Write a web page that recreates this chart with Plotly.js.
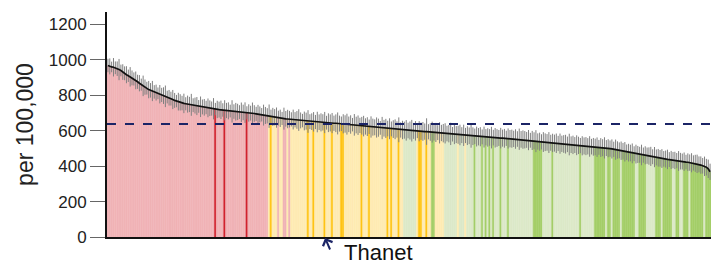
<!DOCTYPE html>
<html>
<head>
<meta charset="utf-8">
<script src="https://cdn.plot.ly/plotly-3.0.1.min.js"></script>
<style>html,body{margin:0;padding:0;background:#fff;}#chart{width:720px;height:264px;}</style>
</head>
<body>
<div id="chart"></div>
<script>
// Rate per 100,000 for each local authority, sorted from highest to lowest
const rates = [
  968,963,960,958,955,950,945,940,931,924,916,910,904,898,
  892,884,876,868,860,853,846,840,832,
  828,824,819,815,811,806,802,798,794,
  790,786,781,776,771,767,764,760,756,
  754,752,750,748,746,744,742,739,737,
  735,734,732,731,729,727,725,724,722,
  720,719,718,717,715,714,712,711,709,
  708,707,706,705,704,703,702,701,700,
  699,698,697,695,693,692,690,688,686,
  684,682,680,678,676,674,671,
  670,669,668,667,666,665,
  664,663,662,661,660,658,657,655,654,652,
  651,651,650,649,649,648,647,647,646,
  645,645,644,643,642,642,641,640,639,639,638,637,636,635,634,633,632,631,630,
  628,626,624,
  623,622,621,620,619,618,617,616,615,614,613,612,611,610,609,608,607,605,
  604,604,603,602,601,601,600,599,599,598,597,597,596,595,595,594,593,592,
  591,590,589,588,587,586,585,584,583,582,580,
  579,578,577,576,575,574,573,572,571,570,569,568,567,566,566,565,564,563,
  562,562,561,561,560,559,559,558,558,557,557,556,555,555,554,553,553,552,
  551,550,549,548,547,546,545,543,541,539,
  538,537,536,535,534,533,532,531,530,529,528,527,526,525,524,523,522,521,520,
  519,518,517,516,515,514,513,512,511,510,509,508,507,506,505,504,503,502,501,
  499,497,495,493,491,489,487,484,481,478,
  476,474,472,470,468,466,464,463,462,461,459,457,455,453,451,449,447,444,
  443,441,440,438,437,435,434,432,431,429,428,426,425,423,422,420,419,418,416,
  413,410,406,402,399,394,385,368
];

// Half-width of the confidence interval for each local authority
const ciHalf = [
  38,45,30,52,36,41,60,33,44,39,48,35,55,42,37,50,40,46,34,58,
  43,36,49,41,57,38,45,33,52,40,47,61,36,44,39,54,42,35,50,46,
  41,55,37,48,43,62,39,45,51,36,58,42,47,38,53,44,40,60,35,49,
  45,52,38,57,43,48,36,63,41,50,46,39,55,44,58,37,49,42,61,47,
  40,53,45,38,59,48,43,66,39,51,46,57,42,49,37,62,44,52,47,40,
  56,43,50,61,45,38,53,48,64,42,47,55,40,58,44,51,46,60,39,53,
  48,57,43,50,62,45,41,54,49,59,44,52,38,61,47,55,43,50,58,46,
  53,41,60,48,45,57,51,39,63,47,54,44,59,42,50,56,46,70,43,52,
  48,58,44,51,61,45,55,40,57,49,53,46,75,43,50,59,47,54,42,60,
  46,52,57,44,49,63,41,55,48,51,58,45,60,43,53,47,66,50,44,56,
  49,54,42,59,46,52,47,61,44,55,50,45,58,48,53,43,57,49,51,46,
  55,44,60,47,52,49,45,57,42,54,48,62,46,51,43,56,50,47,59,45,
  52,48,55,43,57,46,50,53,44,61,47,52,45,56,49,43,54,48,51,46,
  58,44,50,47,55,42,53,48,60,45,51,46,54,43,57,49,45,52,47,55,
  44,50,47,56,42,53,48,45,58,43,51,46,49,54,42,57,45,50,47,53,
  44,48,55,42,51,46,49,43,56,47,45,52,41,50,46,54,43,48,52,45,
  49,44,55,47,52,46
];

// Region/status group of each local authority (one letter per bar)
const groupCodes = (
  "rrrrrrrrrrrrrrrrrrrr" +
  "rrrrrrrrrrrrrrrrrrrr" +
  "rrrrrrrrrrrrrrrrrrRr" +
  "rrrRrrrrrrrrrrrRrrrr" +
  "rrrrrrryYyyyryyrryry" +
  "yyyyyyyyYyyYyyyyyYyy" +
  "yYyyyyYYyyyyyyyyyYyy" +
  "yYyyyyyyyyyYyYyyyYyy" +
  "gggggggyYYyyYyyGGyyy" +
  "yygggggggygggyggggGg" +
  "ggGgGgGgGgggGgggGggg" +
  "ggggggggggGGGGGggggg" +
  "GggggggggggggggGgggg" +
  "gggGGGGGGgGGgGGGGgGG" +
  "GGGGGggGGGGgggggGGGg" +
  "GGGGGggGGggGGGgGGGGG" +
  "GGgGGG"
).split("");

const groupColours = {
  r: "#F0B3B6", R: "#D1232F",
  y: "#FEEBB3", Y: "#FFC415",
  g: "#DCE9C8", G: "#A4CE68"
};

const englandRate = 638;
const highlightIndex = 117;
const highlightName = "Thanet";

const idx = rates.map((_, i) => i);
const barColours = groupCodes.map(c => groupColours[c]);

const font = "Liberation Sans, Arial, Helvetica, sans-serif";

const traces = [
  {
    type: "bar", x: idx, y: rates,
    marker: { color: barColours, line: { width: 0.5, color: barColours } },
    hoverinfo: "skip", showlegend: false
  },
  {
    type: "scatter", mode: "markers", x: idx, y: rates,
    marker: { size: 1, opacity: 0 },
    error_y: { type: "data", array: ciHalf, visible: true, color: "#808080", thickness: 1, width: 0 },
    hoverinfo: "skip", showlegend: false
  },
  {
    type: "scatter", mode: "lines", x: idx, y: rates,
    line: { color: "#111", width: 1.7 },
    hoverinfo: "skip", showlegend: false
  }
];

const layout = {
  width: 720, height: 264,
  margin: { l: 107, r: 9, t: 12, b: 27 },
  paper_bgcolor: "#fff", plot_bgcolor: "#fff",
  bargap: 0,
  font: { family: font, color: "#222" },
  xaxis: {
    range: [-0.5, rates.length - 0.5],
    showticklabels: false, ticks: "", showgrid: false, zeroline: false,
    showline: true, linecolor: "#111", linewidth: 2
  },
  yaxis: {
    range: [0, 1270],
    tickvals: [0, 200, 400, 600, 800, 1000, 1200],
    ticktext: ["0", "200", "400", "600", "800", "1000", "1200"],
    ticks: "outside", ticklen: 15, tickwidth: 1, tickcolor: "#666",
    tickfont: { size: 17, family: font, color: "#222" },
    showgrid: false, zeroline: false,
    showline: true, linecolor: "#111", linewidth: 2,
    title: { text: "per 100,000", font: { size: 23, family: font, color: "#222" }, standoff: 9 }
  },
  shapes: [{
    type: "line", xref: "paper", x0: 0, x1: 1, yref: "y", y0: englandRate, y1: englandRate,
    line: { color: "#1B2466", width: 2, dash: "dash" }
  }],
  annotations: [
    {
      x: highlightIndex, y: 0, xref: "x", yref: "y",
      text: "", showarrow: true, arrowhead: 4, arrowsize: 1, arrowwidth: 2,
      arrowcolor: "#1B2466", ax: 6, ay: 14, standoff: 1
    },
    {
      x: highlightIndex, y: 0, xref: "x", yref: "y",
      text: highlightName, showarrow: false,
      xanchor: "left", yanchor: "middle", xshift: 17, yshift: -15,
      font: { size: 22, family: font, color: "#111" }
    }
  ]
};

Plotly.newPlot("chart", traces, layout, { staticPlot: true, displayModeBar: false });
</script>
</body>
</html>
